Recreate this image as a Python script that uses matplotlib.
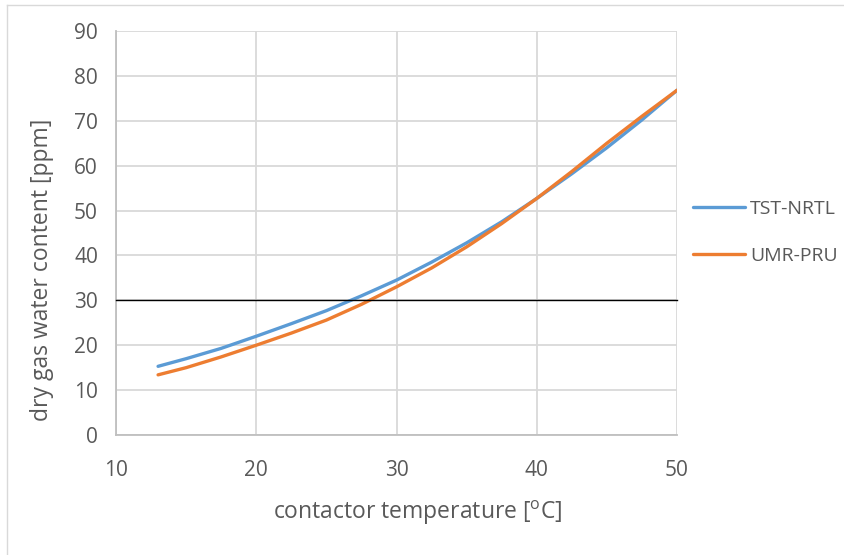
import matplotlib
matplotlib.use("Agg")
import matplotlib.pyplot as plt
from matplotlib.lines import Line2D

# values
temps = [13, 15, 17.5, 20, 22.5, 25, 27.5, 30, 32.5, 35, 37.5, 40, 42.5, 45, 47.5, 50]
tst_nrtl = [15.3, 17.0, 19.3, 22.0, 24.8, 27.7, 31.0, 34.5, 38.5, 42.8, 47.5, 52.7, 58.2, 64.0, 70.2, 76.8]
umr_pru = [13.4, 15.0, 17.4, 20.0, 22.7, 25.6, 29.1, 33.0, 37.2, 41.9, 47.1, 52.7, 58.7, 65.0, 71.0, 76.8]
limit_x = [10, 50]
limit_y = [30, 30]

plt.rcParams['font.family'] = ['Open Sans', 'DejaVu Sans']
grey = '#595959'

fig = plt.figure(figsize=(8.44, 5.55), dpi=100)
ax = fig.add_axes([116/844, 1-435/555, (677-116)/844, (435-31)/555])

ax.plot(temps, tst_nrtl, color='#5B9BD5', lw=2.4, label='TST-NRTL', solid_capstyle='round', zorder=3)
ax.plot(temps, umr_pru, color='#ED7D31', lw=2.4, label='UMR-PRU', solid_capstyle='round', zorder=4)
ax.plot(limit_x, limit_y, color='black', lw=1.0, zorder=5, clip_on=False)

ax.set_xlim(10, 50)
ax.set_ylim(0, 90)
ax.set_xticks(range(10, 51, 10))
ax.set_yticks(range(0, 91, 10))
ax.grid(True, color='#d9d9d9', lw=1.3)
ax.set_axisbelow(True)
for s in ['top', 'right']:
    ax.spines[s].set_visible(False)
for s in ['left', 'bottom']:
    ax.spines[s].set_color('#bfbfbf')
    ax.spines[s].set_linewidth(1.3)
ax.tick_params(length=0, labelsize=15, labelcolor=grey)
ax.tick_params(axis='x', pad=18)
ax.tick_params(axis='y', pad=13)

ax.set_xlabel('contactor temperature [$\\mathregular{^{o}}$C]', fontsize=16.5, color=grey)
ax.set_ylabel('dry gas water content [ppm]', fontsize=16.5, color=grey)
ax.xaxis.set_label_coords(0.538, -0.158)
ax.yaxis.set_label_coords(-0.11, 0.41)

fig.legend(handles=ax.get_lines()[:2], loc='upper left', bbox_to_anchor=(677/844, 1-184/555),
           frameon=False, fontsize=14, handlelength=2.7, labelspacing=1.5, handletextpad=0.25,
           borderpad=0.3, labelcolor=grey)

# outer chart frame
fig.add_artist(Line2D([7/844, 7/844], [0, 1-5/555], color='#d9d9d9', lw=1))
fig.add_artist(Line2D([7/844, 1], [1-5/555, 1-5/555], color='#d9d9d9', lw=1))

fig.savefig('out.png', dpi=100)
